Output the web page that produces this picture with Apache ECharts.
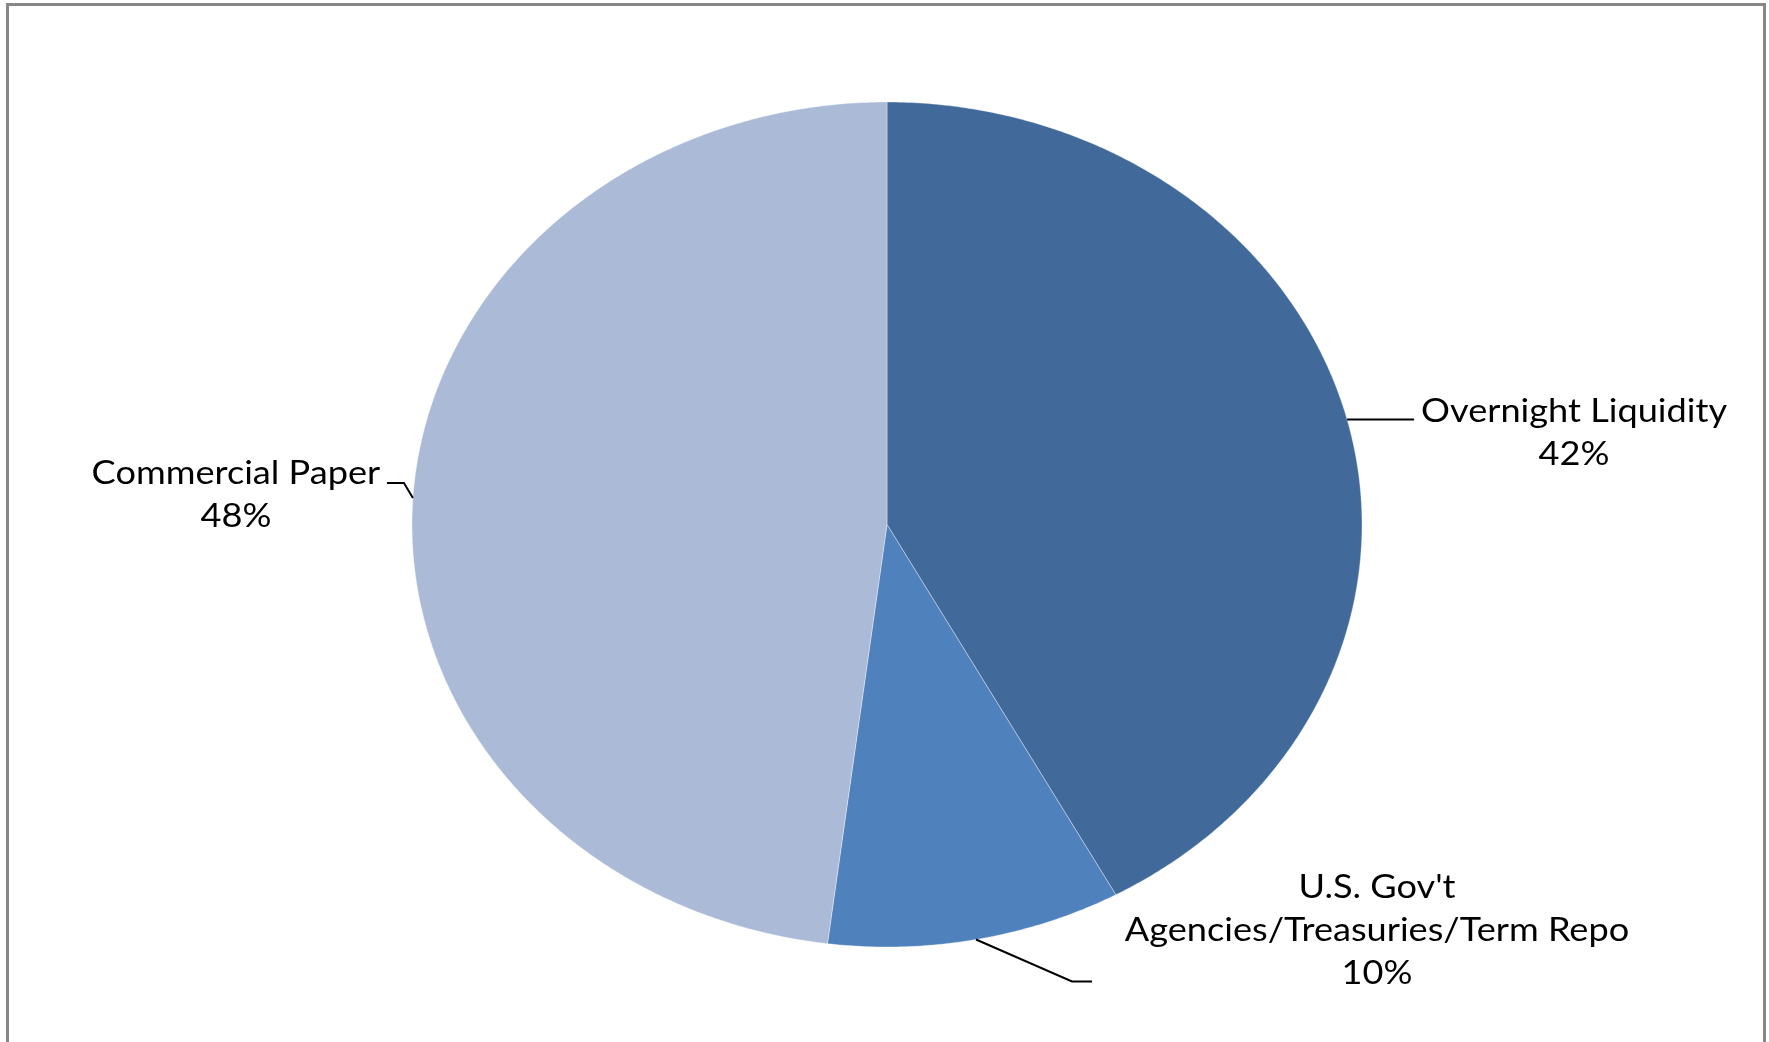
<!DOCTYPE html>
<html>
<head>
<meta charset="utf-8">
<script src="https://cdn.jsdelivr.net/npm/echarts@6/dist/echarts.min.js"></script>
<style>
  html, body { margin: 0; padding: 0; background: #ffffff; }
  #chart { width: 1769px; height: 1042px; }
</style>
</head>
<body>
<div id="chart"></div>
<script>
// Portfolio composition (percent of total)
const categories = ['Overnight Liquidity', "U.S. Gov't\nAgencies/Treasuries/Term Repo", 'Commercial Paper'];
const shares = [42, 10, 48];
const palette = ['#416A9B', '#4F81BD', '#AABAD7'];

// Elliptical pie geometry (pixels)
const PIE = { cx: 887, cy: 524.5, rx: 475, ry: 422.5 };

// Leader-line bends and label block centres, relative to the slice's mid-edge point
const LABEL_LAYOUT = [
  { leader: [[67, 0]], dx: 227, dy: 14 },
  { leader: [[96, 42], [116, 42]], dx: 401, dy: -9 },
  { leader: [[-9, -15], [-26, -15]], dx: -177, dy: -3 }
];

const total = shares.reduce((a, b) => a + b, 0);

function renderSlice(params, api) {
  const i = params.dataIndex;
  let before = 0;
  for (let k = 0; k < i; k++) before += shares[k];
  const v = api.value(0);
  const a0 = before / total * Math.PI * 2;
  const a1 = (before + v) / total * Math.PI * 2;
  const onEdge = a => [PIE.cx + PIE.rx * Math.sin(a), PIE.cy - PIE.ry * Math.cos(a)];

  const pts = [[PIE.cx, PIE.cy]];
  const n = Math.max(8, Math.ceil((a1 - a0) / (Math.PI / 360)));
  for (let k = 0; k <= n; k++) pts.push(onEdge(a0 + (a1 - a0) * k / n));

  const mid = onEdge((a0 + a1) / 2);
  const L = LABEL_LAYOUT[i];
  const leader = [mid].concat(L.leader.map(([dx, dy]) => [mid[0] + dx, mid[1] + dy]));

  return {
    type: 'group',
    children: [
      {
        type: 'polygon',
        shape: { points: pts },
        style: { fill: palette[i], stroke: 'rgba(255,255,255,0.35)', lineWidth: 1 }
      },
      {
        type: 'polyline',
        z2: 10,
        shape: { points: leader },
        style: { stroke: '#000000', lineWidth: 2, fill: null }
      },
      {
        type: 'text',
        z2: 10,
        x: mid[0] + L.dx,
        y: mid[1] + L.dy,
        scaleX: 1.13,
        style: {
          text: categories[i] + '\n' + v + '%',
          fill: '#000000',
          font: '32px Lato, "Open Sans", sans-serif',
          align: 'center',
          verticalAlign: 'middle',
          lineHeight: 43
        }
      }
    ]
  };
}

const chart = echarts.init(document.getElementById('chart'), null, { renderer: 'canvas' });
chart.setOption({
  animation: false,
  backgroundColor: '#ffffff',
  graphic: [{
    type: 'rect',
    shape: { x: 7.5, y: 4.5, width: 1757, height: 1100 },
    style: { fill: null, stroke: '#878787', lineWidth: 3 },
    silent: true
  }],
  series: [{
    type: 'custom',
    coordinateSystem: 'none',
    renderItem: renderSlice,
    data: shares.map((v, i) => ({ name: categories[i], value: v }))
  }]
});
</script>
</body>
</html>
